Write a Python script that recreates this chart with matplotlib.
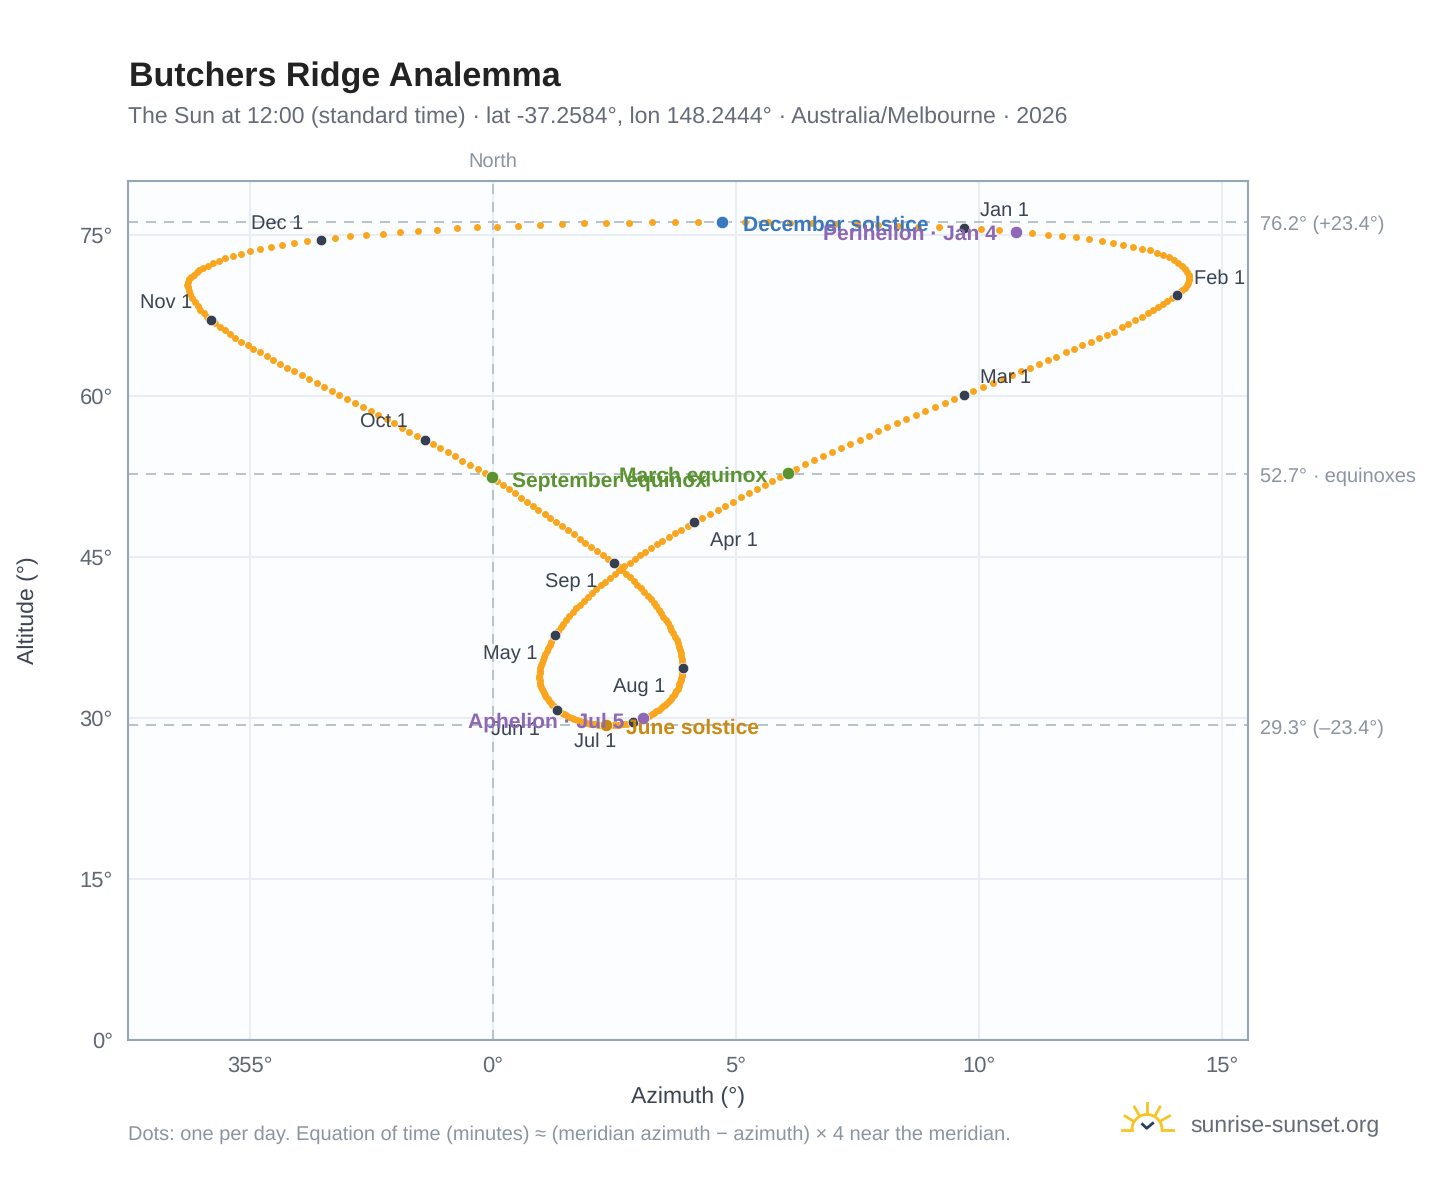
import numpy as np
import matplotlib
matplotlib.use("Agg")
import matplotlib.pyplot as plt

plt.rcParams['font.family'] = ['Liberation Sans', 'DejaVu Sans']
plt.rcParams['text.hinting'] = 'no_hinting'
plt.rcParams['text.hinting_factor'] = 1

# one reading per day, degrees
az_jan = [9.68, 10.04, 10.41, 10.76, 11.09, 11.41, 11.71, 12.00, 12.26, 12.52, 12.76, 12.96, 13.16, 13.34, 13.51, 13.65,
          13.79, 13.91, 14.01, 14.10, 14.18, 14.24, 14.28, 14.31, 14.32, 14.32, 14.30, 14.27, 14.23, 14.18, 14.13]
alt_jan = [75.63, 75.49, 75.40, 75.27, 75.14, 75.00, 74.86, 74.74, 74.59, 74.44, 74.25, 74.06, 73.88, 73.69, 73.53, 73.32,
           73.09, 72.88, 72.65, 72.37, 72.09, 71.81, 71.53, 71.25, 70.97, 70.74, 70.50, 70.27, 70.04, 69.85, 69.62]
az_feb = [14.06, 13.97, 13.87, 13.78, 13.68, 13.58, 13.47, 13.34, 13.21, 13.07, 12.93, 12.77, 12.62, 12.46,
          12.29, 12.12, 11.95, 11.78, 11.59, 11.41, 11.23, 11.04, 10.85, 10.67, 10.48, 10.28, 10.08, 9.88]
alt_feb = [69.40, 69.15, 68.87, 68.56, 68.28, 68.00, 67.69, 67.35, 67.01, 66.67, 66.36, 65.98, 65.67, 65.36,
           64.99, 64.71, 64.37, 64.03, 63.65, 63.31, 62.97, 62.63, 62.26, 61.91, 61.57, 61.17, 60.80, 60.45]
az_mar = [9.69, 9.49, 9.29, 9.10, 8.89, 8.69, 8.49, 8.31, 8.11, 7.92, 7.73, 7.54, 7.35, 7.16, 6.97, 6.78, 6.60, 6.42, 6.24, 6.06,
          5.91, 5.74, 5.59, 5.42, 5.27, 5.10, 4.94, 4.78, 4.63, 4.47, 4.30]
alt_mar = [60.05, 59.71, 59.30, 58.93, 58.56, 58.19, 57.81, 57.44, 57.07, 56.69, 56.29, 55.92, 55.54, 55.17, 54.77, 54.40, 53.99, 53.62, 53.22, 52.81,
           52.45, 52.06, 51.68, 51.30, 50.91, 50.53, 50.14, 49.75, 49.37, 48.98, 48.60]
az_apr = [4.14, 4.00, 3.87, 3.74, 3.61, 3.48, 3.37, 3.25, 3.13, 3.02, 2.91, 2.81, 2.70, 2.60, 2.50,
          2.40, 2.30, 2.21, 2.12, 2.03, 1.95, 1.87, 1.79, 1.71, 1.64, 1.57, 1.50, 1.44, 1.39, 1.33]
alt_apr = [48.21, 47.87, 47.53, 47.19, 46.85, 46.50, 46.16, 45.82, 45.48, 45.14, 44.80, 44.45, 44.11, 43.74, 43.40,
           43.03, 42.68, 42.34, 41.97, 41.63, 41.25, 40.91, 40.54, 40.20, 39.83, 39.48, 39.14, 38.77, 38.43, 38.05]
az_may = [1.28, 1.24, 1.20, 1.165, 1.13, 1.10, 1.07, 1.045, 1.02, 1.00, 0.985, 0.975, 0.965, 0.96, 0.955, 0.955,
          0.96, 0.965, 0.975, 0.985, 1.00, 1.02, 1.04, 1.065, 1.09, 1.12, 1.15, 1.185, 1.22, 1.26, 1.285]
alt_may = [37.71, 37.40, 37.09, 36.78, 36.50, 36.22, 35.94, 35.66, 35.38, 35.14, 34.89, 34.64, 34.39, 34.14, 33.92, 33.71,
           33.49, 33.27, 33.08, 32.90, 32.71, 32.49, 32.28, 32.09, 31.90, 31.72, 31.56, 31.38, 31.22, 31.07, 30.88]
az_jun = [1.31, 1.36, 1.41, 1.46, 1.51, 1.56, 1.62, 1.67, 1.73, 1.78, 1.84, 1.89, 1.94, 2.00, 2.05,
          2.10, 2.15, 2.19, 2.24, 2.28, 2.32, 2.37, 2.43, 2.48, 2.54, 2.59, 2.65, 2.70, 2.76, 2.82]
alt_jun = [30.72, 30.60, 30.48, 30.35, 30.23, 30.10, 30.01, 29.92, 29.82, 29.73, 29.64, 29.57, 29.51, 29.45, 29.42,
           29.39, 29.36, 29.33, 29.33, 29.29, 29.29, 29.29, 29.29, 29.33, 29.33, 29.36, 29.39, 29.42, 29.45, 29.51]
az_jul = [2.87, 2.93, 2.98, 3.04, 3.09, 3.15, 3.20, 3.26, 3.31, 3.36, 3.41, 3.45, 3.50, 3.54, 3.58, 3.62,
          3.65, 3.68, 3.715, 3.745, 3.77, 3.795, 3.815, 3.835, 3.85, 3.865, 3.875, 3.885, 3.89, 3.895, 3.90]
alt_jul = [29.57, 29.64, 29.73, 29.82, 29.95, 30.07, 30.20, 30.32, 30.44, 30.60, 30.75, 30.91, 31.07, 31.22, 31.38, 31.56,
           31.75, 31.90, 32.09, 32.28, 32.49, 32.71, 32.93, 33.15, 33.36, 33.55, 33.74, 33.92, 34.11, 34.30, 34.48]
az_aug = [3.90, 3.90, 3.895, 3.885, 3.875, 3.86, 3.845, 3.825, 3.80, 3.775, 3.745, 3.71, 3.67, 3.635, 3.595, 3.55,
          3.505, 3.46, 3.41, 3.36, 3.305, 3.25, 3.18, 3.11, 3.05, 2.97, 2.89, 2.82, 2.74, 2.65, 2.57]
alt_aug = [34.64, 34.92, 35.20, 35.48, 35.76, 36.04, 36.35, 36.63, 36.94, 37.25, 37.56, 37.87, 38.18, 38.49, 38.80, 39.11,
           39.42, 39.76, 40.07, 40.39, 40.73, 41.04, 41.38, 41.72, 42.06, 42.40, 42.75, 43.09, 43.43, 43.77, 44.11]
az_sep = [2.49, 2.37, 2.26, 2.14, 2.02, 1.90, 1.78, 1.66, 1.54, 1.42, 1.30, 1.17, 1.06, 0.93, 0.82,
          0.69, 0.58, 0.45, 0.33, 0.21, 0.09, -0.03, -0.17, -0.32, -0.47, -0.63, -0.78, -0.93, -1.09, -1.24]
alt_sep = [44.42, 44.80, 45.17, 45.57, 45.95, 46.32, 46.69, 47.09, 47.47, 47.84, 48.21, 48.62, 48.99, 49.36, 49.77,
           50.14, 50.51, 50.92, 51.29, 51.66, 52.07, 52.44, 52.84, 53.18, 53.59, 53.96, 54.36, 54.74, 55.11, 55.54]
az_oct = [-1.40, -1.56, -1.72, -1.88, -2.04, -2.19, -2.36, -2.52, -2.68, -2.84, -3.00, -3.16, -3.32, -3.48, -3.63, -3.79,
          -3.94, -4.09, -4.23, -4.38, -4.52, -4.66, -4.79, -4.93, -5.05, -5.18, -5.30, -5.41, -5.52, -5.62, -5.72]
alt_oct = [55.92, 56.26, 56.66, 57.04, 57.44, 57.81, 58.19, 58.56, 58.93, 59.33, 59.71, 60.08, 60.45, 60.83, 61.20, 61.57,
           61.91, 62.26, 62.63, 63.00, 63.34, 63.68, 64.06, 64.40, 64.74, 65.05, 65.39, 65.74, 66.08, 66.42, 66.76]
az_nov = [-5.81, -5.88, -5.95, -6.02, -6.08, -6.14, -6.19, -6.23, -6.26, -6.28, -6.29, -6.28, -6.25, -6.21, -6.16,
          -6.10, -6.04, -5.96, -5.87, -5.77, -5.64, -5.51, -5.35, -5.19, -5.00, -4.79, -4.57, -4.34, -4.10, -3.83]
alt_nov = [67.07, 67.38, 67.69, 68.03, 68.38, 68.72, 69.09, 69.43, 69.80, 70.15, 70.36, 70.58, 70.83, 71.05, 71.26,
           71.48, 71.70, 71.92, 72.10, 72.35, 72.57, 72.82, 73.03, 73.22, 73.44, 73.66, 73.84, 74.03, 74.18, 74.37]
az_dec = [-3.55, -3.25, -2.94, -2.61, -2.26, -1.91, -1.54, -1.15, -0.75, -0.34, 0.08, 0.51, 0.97, 1.41, 1.87, 2.33,
          2.80, 3.27, 3.74, 4.22, 4.71, 5.19, 5.66, 6.11, 6.56, 7.04, 7.49, 7.92, 8.33, 8.74, 9.18]
alt_dec = [74.53, 74.68, 74.84, 74.96, 75.11, 75.24, 75.36, 75.46, 75.58, 75.68, 75.74, 75.83, 75.89, 75.99, 76.05, 76.11,
           76.13, 76.14, 76.17, 76.19, 76.20, 76.19, 76.17, 76.12, 76.08, 76.02, 75.97, 75.92, 75.82, 75.75, 75.67]

months_az = [az_jan, az_feb, az_mar, az_apr, az_may, az_jun, az_jul, az_aug, az_sep, az_oct, az_nov, az_dec]
months_alt = [alt_jan, alt_feb, alt_mar, alt_apr, alt_may, alt_jun, alt_jul, alt_aug, alt_sep, alt_oct, alt_nov, alt_dec]
month_labels = ['Jan 1', 'Feb 1', 'Mar 1', 'Apr 1', 'May 1', 'Jun 1', 'Jul 1', 'Aug 1', 'Sep 1', 'Oct 1', 'Nov 1', 'Dec 1']

# (label, month index, day of month)
special_days = [
    ('December solstice', 11, 21),
    ('Perihelion · Jan 4', 0, 4),
    ('March equinox', 2, 20),
    ('September equinox', 8, 22),
    ('June solstice', 5, 21),
    ('Aphelion · Jul 5', 6, 5),
]

ref_altitudes = [76.2, 52.7, 29.3]
ref_labels = ['76.2° (+23.4°)', '52.7° · equinoxes', '29.3° (–23.4°)']
x_ticks = [-5, 0, 5, 10, 15]
x_tick_labels = ['355°', '0°', '5°', '10°', '15°']
y_ticks = [0, 15, 30, 45, 60, 75]
y_tick_labels = ['0°', '15°', '30°', '45°', '60°', '75°']

# styling, offsets in pixels from the dot
ORANGE = '#f9a61e'
DARK = '#353f4f'
GREY = '#8b95a1'
month_offsets = [(16, 17.5, 'left'), (17, 16.5, 'left'), (16, 17.5, 'left'), (16, -18.5, 'left'),
                 (-18, -18.5, 'right'), (-17, -19.5, 'right'), (-16, -19.5, 'right'), (-17, -18.5, 'right'),
                 (-17, -19.5, 'right'), (-17, 16.5, 'right'), (-18, 17.5, 'right'), (-17, 16.5, 'right')]
special_styles = [('#3a78c0', 21, -4, 'left'), ('#8e68b5', -19, -3, 'right'), ('#5a9330', -20, -3, 'right'),
                  ('#5a9330', 20, -4, 'left'), ('#c88a10', 20, -3, 'left'), ('#8e68b5', -19, -4, 'right')]

W, H = 1448, 1188
fig = plt.figure(figsize=(W / 100, H / 100), dpi=100, facecolor='white')
ax = fig.add_axes([128 / W, 1 - 1040 / H, 1120 / W, 859 / H])
ax.set_facecolor('#fbfdff')
ax.set_xlim(-7.51, 15.53)
ax.set_ylim(0, 80)
for s in ax.spines.values():
    s.set_color('#98a5b4')
    s.set_linewidth(1.5)

ax.set_xticks(x_ticks)
ax.set_xticklabels(x_tick_labels)
ax.set_yticks(y_ticks)
ax.set_yticklabels(y_tick_labels)
ax.tick_params(length=0, labelsize=15.5, labelcolor='#5f6874')
ax.tick_params(axis='x', pad=11.5)
ax.tick_params(axis='y', pad=11)
ax.grid(True, color='#e9eef4', linewidth=1.5)
ax.set_axisbelow(True)

for alt in ref_altitudes:
    ax.axhline(alt, color='#b7c3ce', linewidth=1.44, dashes=(5, 4), zorder=1.5)
ax.axvline(0, color='#b7c3ce', linewidth=1.44, dashes=(5, 4), zorder=1.5)

az = np.concatenate(months_az)
alt = np.concatenate(months_alt)
ax.scatter(az, alt, s=25, color=ORANGE, linewidths=0, zorder=3)

for i, label in enumerate(month_labels):
    x0, y0 = months_az[i][0], months_alt[i][0]
    ax.scatter([x0], [y0], s=58, color=DARK, edgecolors='white', linewidths=0.5, zorder=4)
    dx, dy, ha = month_offsets[i]
    ax.annotate(label, (x0, y0), xytext=(dx, dy), textcoords='offset pixels', ha=ha, va='center',
                fontsize=14.6, color='#3a4452', zorder=6)

for (label, m, d), (color, dx, dy, ha) in zip(special_days, special_styles):
    x0, y0 = months_az[m][d - 1], months_alt[m][d - 1]
    ax.scatter([x0], [y0], s=80, color=color, edgecolors='white', linewidths=0.5, zorder=5)
    ax.annotate(label, (x0, y0), xytext=(dx, dy), textcoords='offset pixels', ha=ha, va='center',
                fontsize=15, fontweight='bold', color=color, zorder=7)

for a, t in zip(ref_altitudes, ref_labels):
    ax.annotate(t, (1, a), xycoords=('axes fraction', 'data'), xytext=(12, -3), textcoords='offset pixels',
                ha='left', va='center', fontsize=14.3, color=GREY, annotation_clip=False)
ax.annotate('North', (0, 1), xycoords=('data', 'axes fraction'), xytext=(0, 19), textcoords='offset pixels',
            ha='center', va='center', fontsize=14.6, color=GREY, annotation_clip=False)

fig.text(129 / W, 1 - 77 / H, 'Butchers Ridge Analemma', fontsize=24.4, fontweight='bold', color='#222222', va='center')
fig.text(128 / W, 1 - 117 / H, 'The Sun at 12:00 (standard time) · lat -37.2584°, lon 148.2444° · Australia/Melbourne · 2026',
         fontsize=16.5, color='#656c78', va='center')
fig.text(688 / W, 1 - 1097 / H, 'Azimuth (°)', fontsize=16.8, color='#3a4452', ha='center', va='center')
fig.text(28 / W, 1 - 610 / H, 'Altitude (°)', fontsize=16.8, color='#3a4452', ha='center', va='center', rotation=90)
fig.text(128 / W, 1 - 1135 / H, 'Dots: one per day. Equation of time (minutes) ≈ (meridian azimuth − azimuth) × 4 near the meridian.',
         fontsize=14.3, color=GREY, va='center')
fig.text(1190 / W, 1 - 1126 / H, 'sunrise-sunset.org', fontsize=16.5, color='#656c78', va='center')

# logo, drawn in figure pixels
logo = fig.add_axes([0, 0, 1, 1], facecolor='none')
logo.set_xlim(0, W)
logo.set_ylim(H, 0)
logo.axis('off')
SUN = '#f7c325'
t = np.linspace(np.pi, 2 * np.pi, 40)
logo.plot(1147 + 15 * np.cos(t), 1129.5 + 15 * np.sin(t), color=SUN, lw=2)
for x1, y1, x2, y2 in [(1122, 1129.5, 1132, 1129.5), (1162, 1129.5, 1173, 1129.5), (1147, 1103, 1147, 1112),
                       (1134.5, 1107, 1139, 1115), (1160, 1107, 1155.5, 1115), (1125, 1116, 1133, 1121),
                       (1169.5, 1116, 1160.5, 1121)]:
    logo.plot([x1, x2], [y1, y2], color=SUN, lw=2)
logo.plot([1142.5, 1146.7, 1152.7], [1124.3, 1128.3, 1123.3], color='#24405f', lw=2)

fig.savefig('out.png', dpi=100)
